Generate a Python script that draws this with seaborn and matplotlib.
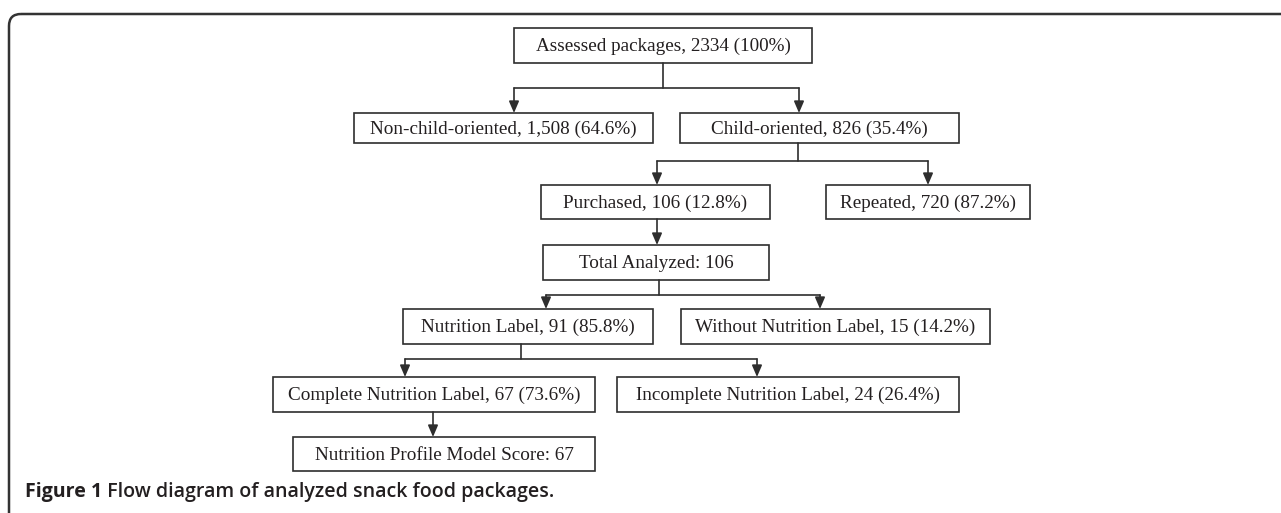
import matplotlib
matplotlib.use("Agg")
import matplotlib.pyplot as plt
from matplotlib.patches import Rectangle, FancyBboxPatch
import seaborn as sns

# flow stages, counts and shares
stages = ["Assessed packages", "Non-child-oriented", "Child-oriented",
          "Purchased", "Repeated", "Total Analyzed", "Nutrition Label",
          "Without Nutrition Label", "Complete Nutrition Label",
          "Incomplete Nutrition Label", "Nutrition Profile Model Score"]
counts = ["2334", "1,508", "826", "106", "720", "106", "91", "15", "67", "24", "67"]
shares = ["100%", "64.6%", "35.4%", "12.8%", "87.2%", None, "85.8%", "14.2%",
          "73.6%", "26.4%", None]
# parent -> children
splits = {0: [1, 2], 2: [3, 4], 3: [5], 5: [6, 7], 6: [8, 9], 8: [10]}

caption_bold = "Figure 1"
caption_rest = " Flow diagram of analyzed snack food packages."

# layout in pixels (x0, x1, y0, y1)
boxes = [(514, 812, 28, 63), (354, 653, 113, 143), (680, 959, 113, 143),
         (541, 770, 185, 219), (826, 1030, 185, 219), (543, 769, 245, 280),
         (403, 653, 309, 344), (681, 990, 309, 344), (273, 595, 377, 412),
         (617, 959, 377, 412), (293, 595, 437, 471)]
out_x = {0: 663, 2: 798, 3: 657, 5: 659, 6: 521, 8: 433}
in_x = {1: 514, 2: 799, 3: 657, 4: 928, 5: 657, 6: 546, 7: 820, 8: 405,
        9: 757, 10: 433}
bar_y = {0: 88, 2: 161, 5: 295, 6: 359}

sns.set_style("white")
line_c = "#2e2e2e"
text_c = "#231f20"

fig = plt.figure(figsize=(12.81, 5.13), dpi=100)
ax = fig.add_axes([0, 0, 1, 1])
ax.set_xlim(0, 1281)
ax.set_ylim(513, 0)
ax.axis("off")

# outer frame with rounded top-left corner
ax.add_patch(FancyBboxPatch((9, 14), 1400, 600,
                            boxstyle="round,pad=0,rounding_size=12",
                            fill=False, ec="#333333", lw=1.8))

for i, (x0, x1, y0, y1) in enumerate(boxes):
    if shares[i] is None:
        label = f"{stages[i]}: {counts[i]}"
    else:
        label = f"{stages[i]}, {counts[i]} ({shares[i]})"
    ax.add_patch(Rectangle((x0, y0), x1 - x0, y1 - y0, fill=False,
                           ec=line_c, lw=1.2))
    ax.text((x0 + x1) / 2, (y0 + y1) / 2 + 1, label, ha="center", va="center",
            family="Liberation Serif", fontsize=13.8, color=text_c)

arrow = dict(arrowstyle="-|>,head_length=0.7,head_width=0.3", color=line_c,
             lw=1.2, shrinkA=0, shrinkB=0)
for p, kids in splits.items():
    xo = out_x[p]
    yb = boxes[p][3]
    if len(kids) == 1:
        k = kids[0]
        ax.annotate("", xy=(in_x[k], boxes[k][2]), xytext=(xo, yb),
                    arrowprops=arrow)
        continue
    yh = bar_y[p]
    ax.plot([xo, xo], [yb, yh], color=line_c, lw=1.2)
    xs = [in_x[k] for k in kids]
    ax.plot([min(xs), max(xs)], [yh, yh], color=line_c, lw=1.2)
    for k in kids:
        ax.annotate("", xy=(in_x[k], boxes[k][2]), xytext=(in_x[k], yh),
                    arrowprops=arrow)

t = ax.text(25, 492, caption_bold, ha="left", va="center",
            family="Open Sans", fontweight="bold", fontsize=14.1, color=text_c)
ax.annotate(caption_rest, xy=(1, 0), xycoords=t, va="bottom", ha="left",
            family="Open Sans", fontweight="semibold", fontsize=14.1,
            color=text_c)

fig.savefig("out.png", dpi=100)
